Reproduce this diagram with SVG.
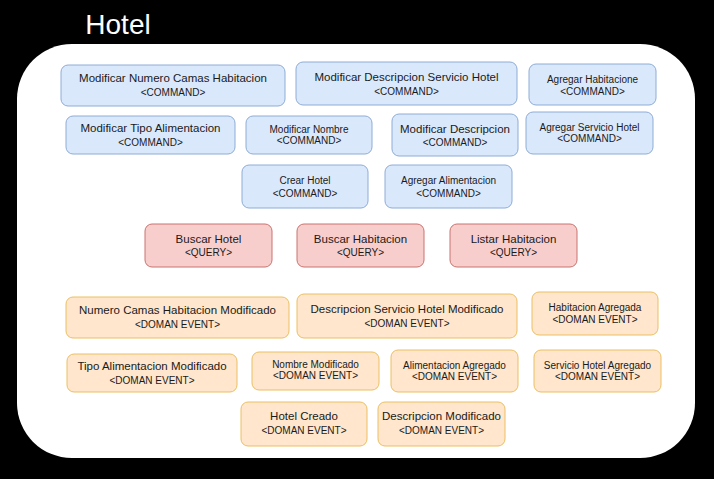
<svg xmlns="http://www.w3.org/2000/svg" width="714" height="479" viewBox="0 0 714 479">
<style>
text{font-family:"Liberation Sans",Arial,Helvetica,sans-serif;fill:#1a1a1a;text-anchor:middle}
.t{font-size:11.5px}
.s{font-size:10px}
.cmd rect{fill:#dae8fc;stroke:#8eacd6;stroke-width:1}
.qry rect{fill:#f8cecc;stroke:#c9736f;stroke-width:1}
.evt rect{fill:#ffe6cc;stroke:#ecbf62;stroke-width:1}
</style>
<rect x="0" y="0" width="714" height="479" fill="#000"/>
<g id="container">
<rect x="17" y="44" width="678" height="414" rx="55" ry="55" fill="#fff"/>
<text x="118" y="34" style="font-size:28px;fill:#fff">Hotel</text>
</g>
<g id="connectors"/>
<g id="cmd-modificar-numero-camas" class="cmd"><rect x="61" y="65" width="224" height="41" rx="7"/><text class="t" x="173" y="82">Modificar Numero Camas Habitacion</text><text class="s" x="173" y="95.5">&lt;COMMAND&gt;</text></g>
<g id="cmd-modificar-desc-servicio" class="cmd"><rect x="296" y="62" width="221" height="43" rx="7"/><text class="t" x="406.5" y="81">Modificar Descripcion Servicio Hotel</text><text class="s" x="406.5" y="94.5">&lt;COMMAND&gt;</text></g>
<g id="cmd-agregar-habitacione" class="cmd"><rect x="529" y="64" width="127" height="41" rx="7"/><text class="s" x="592.5" y="82.5">Agregar Habitacione</text><text class="s" x="592.5" y="94.5">&lt;COMMAND&gt;</text></g>
<g id="cmd-modificar-tipo-alimentacion" class="cmd"><rect x="66" y="116" width="169" height="38" rx="7"/><text class="t" x="150.5" y="132">Modificar Tipo Alimentacion</text><text class="s" x="150.5" y="145.5">&lt;COMMAND&gt;</text></g>
<g id="cmd-modificar-nombre" class="cmd"><rect x="246" y="116" width="126" height="38" rx="7"/><text class="s" x="309" y="132.5">Modificar Nombre</text><text class="s" x="309" y="143.5">&lt;COMMAND&gt;</text></g>
<g id="cmd-modificar-descripcion" class="cmd"><rect x="392" y="114" width="126" height="42" rx="7"/><text class="t" x="455" y="132.5">Modificar Descripcion</text><text class="s" x="455" y="146">&lt;COMMAND&gt;</text></g>
<g id="cmd-agregar-servicio-hotel" class="cmd"><rect x="526" y="112" width="127" height="42" rx="7"/><text class="s" x="589.5" y="130.5">Agregar Servicio Hotel</text><text class="s" x="589.5" y="141.5">&lt;COMMAND&gt;</text></g>
<g id="cmd-crear-hotel" class="cmd"><rect x="242" y="165" width="126" height="43" rx="7"/><text class="s" x="305" y="184">Crear Hotel</text><text class="s" x="305" y="197">&lt;COMMAND&gt;</text></g>
<g id="cmd-agregar-alimentacion" class="cmd"><rect x="385" y="165" width="127" height="43" rx="7"/><text class="s" x="448.5" y="184">Agregar Alimentacion</text><text class="s" x="448.5" y="197">&lt;COMMAND&gt;</text></g>
<g id="qry-buscar-hotel" class="qry"><rect x="145" y="224" width="127" height="43" rx="7"/><text class="t" x="208.5" y="242.5">Buscar Hotel</text><text class="s" x="208.5" y="256">&lt;QUERY&gt;</text></g>
<g id="qry-buscar-habitacion" class="qry"><rect x="297" y="224" width="127" height="43" rx="7"/><text class="t" x="360.5" y="242.5">Buscar Habitacion</text><text class="s" x="360.5" y="256">&lt;QUERY&gt;</text></g>
<g id="qry-listar-habitacion" class="qry"><rect x="450" y="224" width="127" height="43" rx="7"/><text class="t" x="513.5" y="242.5">Listar Habitacion</text><text class="s" x="513.5" y="256">&lt;QUERY&gt;</text></g>
<g id="evt-numero-camas-modificado" class="evt"><rect x="66" y="297" width="223" height="41" rx="7"/><text class="t" x="177.5" y="314">Numero Camas Habitacion Modificado</text><text class="s" x="177.5" y="328">&lt;DOMAN EVENT&gt;</text></g>
<g id="evt-desc-servicio-modificado" class="evt"><rect x="297" y="294" width="220" height="44" rx="7"/><text class="t" x="407" y="313">Descripcion Servicio Hotel Modificado</text><text class="s" x="407" y="327">&lt;DOMAN EVENT&gt;</text></g>
<g id="evt-habitacion-agregada" class="evt"><rect x="532" y="292" width="126" height="43" rx="7"/><text class="s" x="595" y="311">Habitacion Agregada</text><text class="s" x="595" y="323">&lt;DOMAN EVENT&gt;</text></g>
<g id="evt-tipo-alimentacion-modificado" class="evt"><rect x="67" y="354" width="170" height="38" rx="7"/><text class="t" x="152" y="370">Tipo Alimentacion Modificado</text><text class="s" x="152" y="383.5">&lt;DOMAN EVENT&gt;</text></g>
<g id="evt-nombre-modificado" class="evt"><rect x="252" y="352" width="127" height="38" rx="7"/><text class="s" x="315.5" y="367.5">Nombre Modificado</text><text class="s" x="315.5" y="379">&lt;DOMAN EVENT&gt;</text></g>
<g id="evt-alimentacion-agregado" class="evt"><rect x="391" y="350" width="127" height="42" rx="7"/><text class="s" x="454.5" y="368.5">Alimentacion Agregado</text><text class="s" x="454.5" y="379.5">&lt;DOMAN EVENT&gt;</text></g>
<g id="evt-servicio-hotel-agregado" class="evt"><rect x="534" y="350" width="127" height="42" rx="7"/><text class="s" x="597.5" y="368.5">Servicio Hotel Agregado</text><text class="s" x="597.5" y="379.5">&lt;DOMAN EVENT&gt;</text></g>
<g id="evt-hotel-creado" class="evt"><rect x="241" y="402" width="126" height="44" rx="7"/><text class="t" x="304" y="420">Hotel Creado</text><text class="s" x="304" y="433.5">&lt;DOMAN EVENT&gt;</text></g>
<g id="evt-descripcion-modificado" class="evt"><rect x="378" y="402" width="127" height="44" rx="7"/><text class="t" x="441.5" y="420">Descripcion Modificado</text><text class="s" x="441.5" y="433.5">&lt;DOMAN EVENT&gt;</text></g>
</svg>
